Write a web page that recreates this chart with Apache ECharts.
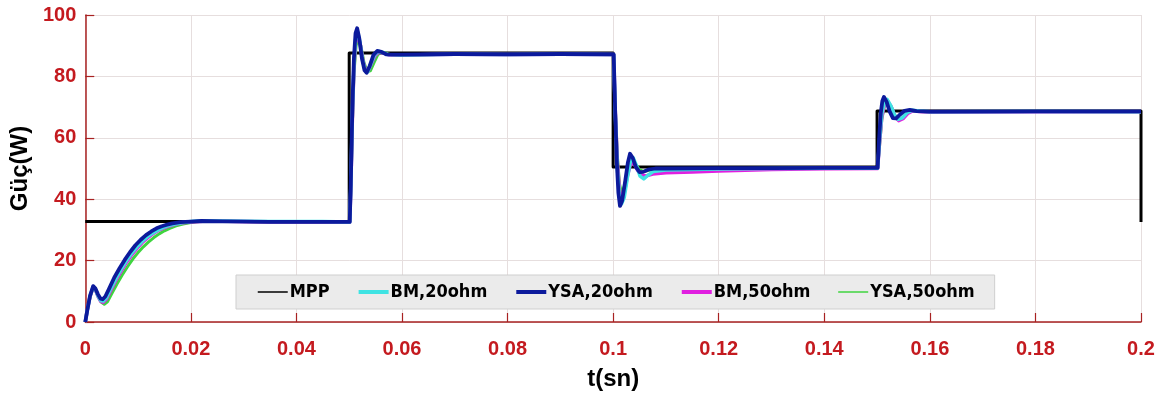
<!DOCTYPE html>
<html>
<head>
<meta charset="utf-8">
<script src="https://cdn.jsdelivr.net/npm/echarts@6/dist/echarts.min.js"></script>
<style>
  html, body { margin: 0; padding: 0; background: #fff; }
  #chart { width: 1171px; height: 401px; }
</style>
</head>
<body>
<div id="chart"></div>
<script>
// Power tracking response: MPP reference and controller outputs (time in s, power in W)
const seriesNames = ['MPP', 'BM,20ohm', 'YSA,20ohm', 'BM,50ohm', 'YSA,50ohm'];
const xTickLabels = ['0', '0.02', '0.04', '0.06', '0.08', '0.1', '0.12', '0.14', '0.16', '0.18', '0.2'];
const yTickLabels = ['0', '20', '40', '60', '80', '100'];

const mpp = [
  [0, 32.7], [0.05, 32.7], [0.05, 87.6], [0.1, 87.6], [0.1, 50.5],
  [0.15, 50.5], [0.15, 68.7], [0.2, 68.7], [0.2, 32.6]
];

const bm20 = [
  [0, 0], [0.0004, 4], [0.0009, 8.4], [0.0015, 11.5], [0.0019, 10.8], [0.0024, 8.6],
  [0.0029, 7.0], [0.0034, 6.8], [0.0040, 7.9], [0.0048, 10.8], [0.0058, 14.2],
  [0.0068, 17.2], [0.0078, 20.0], [0.0088, 22.4], [0.0098, 24.5], [0.0108, 26.3],
  [0.0118, 27.8], [0.0128, 29.0], [0.0138, 30.0], [0.0148, 30.8], [0.0158, 31.4],
  [0.0170, 31.9], [0.0185, 32.4], [0.020, 32.7], [0.022, 33.0], [0.026, 32.9],
  [0.035, 32.7], [0.045, 32.7], [0.0501, 32.6], [0.0503, 44], [0.0506, 68],
  [0.0509, 84], [0.0512, 92], [0.0516, 94.5], [0.0520, 91.5], [0.0525, 85.5],
  [0.0530, 82], [0.0535, 81.5], [0.0541, 84], [0.0548, 87], [0.0555, 88.2],
  [0.0563, 87.8], [0.0573, 87.1], [0.060, 87.0], [0.070, 87.2], [0.080, 87.1],
  [0.090, 87.2], [0.1001, 87.1], [0.1004, 68], [0.1008, 50], [0.1012, 41],
  [0.1016, 38.5], [0.1021, 40.5], [0.1027, 47], [0.1033, 52.5], [0.1038, 53.5],
  [0.1044, 51], [0.1051, 47.5], [0.1058, 46.6], [0.1066, 47.8], [0.1076, 49.0],
  [0.110, 49.5], [0.120, 49.8], [0.130, 50.0], [0.140, 50.1], [0.1501, 50.1],
  [0.1505, 60], [0.1509, 68], [0.1514, 71.5], [0.1519, 72.5], [0.1526, 70.5],
  [0.1533, 67.5], [0.1540, 66.0], [0.1548, 66.5], [0.1557, 68.2], [0.1567, 69.0],
  [0.158, 68.7], [0.160, 68.5], [0.180, 68.6], [0.200, 68.5]
];

const ysa20 = [
  [0, 0], [0.0004, 4], [0.0009, 8.5], [0.0015, 11.7], [0.0019, 11.0], [0.0024, 9.0],
  [0.0029, 7.6], [0.0033, 7.4], [0.0038, 8.3], [0.0045, 10.8], [0.0055, 14.5],
  [0.0065, 17.5], [0.0075, 20.3], [0.0085, 22.8], [0.0095, 25.0], [0.0105, 26.8],
  [0.0115, 28.3], [0.0125, 29.5], [0.0135, 30.5], [0.0145, 31.2], [0.0155, 31.7],
  [0.0165, 32.1], [0.018, 32.5], [0.020, 32.7], [0.022, 32.9], [0.026, 32.8],
  [0.035, 32.6], [0.045, 32.6], [0.0501, 32.6], [0.0503, 45], [0.0506, 70],
  [0.0509, 86], [0.0512, 94], [0.0515, 95.7], [0.0519, 92.5], [0.0524, 86],
  [0.0529, 82], [0.0533, 81.2], [0.0539, 83.5], [0.0546, 87], [0.0553, 88.3],
  [0.0561, 88.0], [0.0570, 87.2], [0.060, 87.1], [0.070, 87.3], [0.080, 87.2],
  [0.090, 87.3], [0.1001, 87.2], [0.1004, 68], [0.1007, 52], [0.1010, 42],
  [0.1013, 37.8], [0.1017, 39.5], [0.1023, 46], [0.1028, 52], [0.1032, 54.8],
  [0.1037, 53.5], [0.1043, 50.5], [0.1050, 48.8], [0.1057, 48.9], [0.1066, 49.6],
  [0.108, 50.0], [0.110, 50.0], [0.120, 50.1], [0.130, 50.1], [0.140, 50.2],
  [0.1501, 50.2], [0.1504, 60], [0.1507, 68], [0.1510, 72], [0.1513, 73.3],
  [0.1518, 71.8], [0.1524, 68.5], [0.1530, 66.4], [0.1536, 66.3], [0.1543, 67.5],
  [0.1552, 68.8], [0.1562, 69.1], [0.1575, 68.7], [0.160, 68.5], [0.180, 68.6],
  [0.200, 68.6]
];

const bm50 = [
  [0, 0], [0.0004, 4], [0.0009, 8.3], [0.0015, 11.4], [0.0019, 10.6], [0.0024, 8.4],
  [0.0029, 6.8], [0.0034, 6.4], [0.0040, 7.4], [0.0048, 10.2], [0.0058, 13.6],
  [0.0068, 16.6], [0.0078, 19.4], [0.0088, 21.9], [0.0098, 24.0], [0.0108, 25.9],
  [0.0118, 27.4], [0.0128, 28.7], [0.0138, 29.8], [0.0148, 30.6], [0.0158, 31.2],
  [0.0170, 31.8], [0.0185, 32.3], [0.020, 32.6], [0.023, 32.9], [0.027, 32.8],
  [0.035, 32.6], [0.045, 32.6], [0.0501, 32.6], [0.0503, 43], [0.0506, 66],
  [0.0509, 83], [0.0512, 91], [0.0516, 93.5], [0.0521, 90.5], [0.0526, 85],
  [0.0531, 82], [0.0536, 81.8], [0.0542, 84.2], [0.0549, 86.8], [0.0556, 87.9],
  [0.0565, 87.6], [0.0575, 87.0], [0.060, 87.0], [0.070, 87.2], [0.080, 87.1],
  [0.090, 87.2], [0.1001, 87.1], [0.1004, 69], [0.1008, 52], [0.1012, 43],
  [0.1016, 40], [0.1021, 42], [0.1027, 47.5], [0.1033, 51.5], [0.1039, 51.8],
  [0.1046, 49.5], [0.1054, 47.8], [0.1063, 47.6], [0.1075, 48.2], [0.110, 48.6],
  [0.115, 48.9], [0.120, 49.2], [0.130, 49.7], [0.140, 49.9], [0.1501, 50.0],
  [0.1505, 59], [0.1509, 67], [0.1514, 70.8], [0.1520, 72.0], [0.1527, 70.0],
  [0.1534, 67.0], [0.1541, 65.6], [0.1549, 66.2], [0.1558, 67.9], [0.1568, 68.8],
  [0.158, 68.6], [0.160, 68.4], [0.180, 68.5], [0.200, 68.5]
];

const ysa50 = [
  [0, 0], [0.0004, 4], [0.0009, 8.2], [0.0015, 11.3], [0.0019, 10.5], [0.0024, 8.3],
  [0.0030, 6.5], [0.0036, 5.8], [0.0042, 6.6], [0.0050, 9.2], [0.0060, 12.4],
  [0.0070, 15.3], [0.0080, 18.0], [0.0090, 20.5], [0.0100, 22.6], [0.0110, 24.5],
  [0.0120, 26.1], [0.0130, 27.5], [0.0140, 28.7], [0.0150, 29.7], [0.0160, 30.5],
  [0.0172, 31.3], [0.0185, 31.9], [0.020, 32.4], [0.022, 32.8], [0.027, 32.8],
  [0.035, 32.6], [0.045, 32.6], [0.0501, 32.6], [0.0503, 42], [0.0506, 64],
  [0.0509, 81], [0.0513, 90], [0.0517, 92.5], [0.0522, 90], [0.0528, 84.5],
  [0.0534, 81.6], [0.0540, 81.8], [0.0547, 84.5], [0.0554, 87], [0.0561, 88.0],
  [0.0570, 87.6], [0.0580, 87.0], [0.060, 87.0], [0.070, 87.2], [0.080, 87.1],
  [0.090, 87.2], [0.1001, 87.1], [0.1004, 70], [0.1008, 54], [0.1012, 45],
  [0.1016, 42], [0.1021, 44], [0.1028, 49.5], [0.1035, 52.2], [0.1042, 51.5],
  [0.1050, 49.6], [0.1058, 49.0], [0.1068, 49.4], [0.108, 49.8], [0.110, 49.9],
  [0.120, 50.0], [0.130, 50.0], [0.140, 50.1], [0.1501, 50.1], [0.1505, 58],
  [0.1509, 66], [0.1514, 70.5], [0.1520, 71.8], [0.1527, 70.0], [0.1534, 67.2],
  [0.1541, 66.0], [0.1549, 66.6], [0.1558, 68.2], [0.1568, 68.9], [0.158, 68.6],
  [0.160, 68.5], [0.180, 68.6], [0.200, 68.5]
];

const seriesData = [mpp, bm20, ysa20, bm50, ysa50];
const seriesColors = ['#000000', '#3fe3e3', '#0c1a9c', '#e01fe0', '#3fd43f'];
const seriesWidths = [3, 3.5, 3.8, 3.5, 3];
const seriesZ = [1, 4, 5, 3, 2];
const legendWidths = [1.5, 4, 4, 4, 1.5];

const tickRed = '#c41a1f';
const axisRed = '#a82222';

const chart = echarts.init(document.getElementById('chart'), null, { renderer: 'canvas' });

chart.setOption({
  animation: false,
  backgroundColor: '#ffffff',
  grid: { left: 83, right: 30, top: 15, bottom: 79, containLabel: false },
  legend: {
    left: 236,
    top: 275,
    z: 20,
    padding: [6, 20, 6, 21],
    itemWidth: 30,
    itemHeight: 14,
    itemGap: 27,
    backgroundColor: '#ebebeb',
    borderColor: '#cfcfcf',
    borderWidth: 1,
    borderRadius: 0,
    textStyle: {
      fontFamily: '"Liberation Sans Narrow", "DejaVu Sans Condensed", sans-serif',
      fontWeight: 'bold',
      fontSize: 18,
      lineHeight: 22,
      color: '#000',
      padding: [0, 0, 0, -3]
    },
    data: seriesNames.map((n, i) => ({
      name: n,
      itemStyle: { opacity: 0 },
      lineStyle: { width: legendWidths[i], color: seriesColors[i] }
    }))
  },
  xAxis: {
    type: 'value',
    min: 0,
    max: 0.2,
    interval: 0.02,
    name: 't(sn)',
    nameLocation: 'middle',
    nameGap: 45,
    nameTextStyle: { fontFamily: 'Liberation Sans, Arial, sans-serif', fontWeight: 'bold', fontSize: 24, color: '#000' },
    axisLine: { show: true, lineStyle: { color: axisRed, width: 1.5 } },
    axisTick: { show: true, inside: true, length: 9, lineStyle: { color: axisRed, width: 1.2 } },
    axisLabel: {
      margin: 17,
      fontFamily: 'Liberation Sans, Arial, sans-serif',
      fontWeight: 'bold',
      fontSize: 20,
      color: tickRed,
      formatter: v => xTickLabels[Math.round(v / 0.02)]
    },
    splitLine: { show: true, lineStyle: { color: '#e6dede', width: 1 } }
  },
  yAxis: {
    type: 'value',
    min: 0,
    max: 100,
    interval: 20,
    name: 'Güç(W)',
    nameLocation: 'middle',
    nameGap: 52,
    nameTextStyle: { fontFamily: 'Liberation Sans, Arial, sans-serif', fontWeight: 'bold', fontSize: 24, color: '#000' },
    axisLine: { show: true, lineStyle: { color: axisRed, width: 1.5 } },
    axisTick: { show: true, inside: true, length: 9, lineStyle: { color: axisRed, width: 1.2 } },
    axisLabel: {
      margin: 9,
      fontFamily: 'Liberation Sans, Arial, sans-serif',
      fontWeight: 'bold',
      fontSize: 20,
      color: tickRed,
      formatter: v => yTickLabels[Math.round(v / 20)]
    },
    splitLine: { show: true, lineStyle: { color: '#e6dede', width: 1 } }
  },
  series: seriesNames.map((n, i) => ({
    name: n,
    type: 'line',
    data: seriesData[i],
    symbol: 'none',
    z: seriesZ[i],
    lineStyle: { color: seriesColors[i], width: seriesWidths[i], join: 'round' },
    itemStyle: { color: seriesColors[i] }
  }))
});
</script>
</body>
</html>
